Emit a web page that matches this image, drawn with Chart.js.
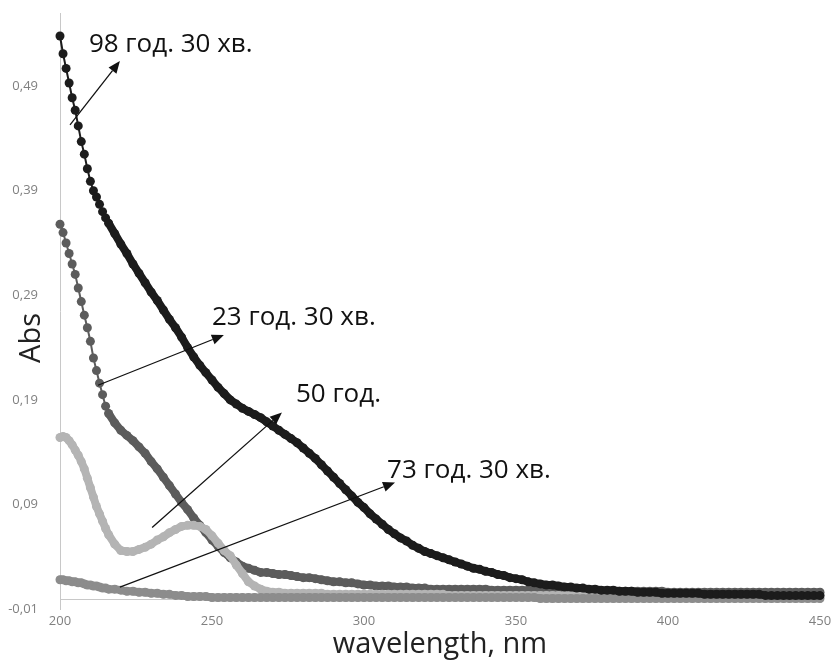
<!DOCTYPE html>
<html>
<head>
<meta charset="utf-8">
<script src="https://cdn.jsdelivr.net/npm/chart.js@4"></script>
<style>
  html, body { margin: 0; padding: 0; background: #fff; }
  #chart { display: block; }
</style>
</head>
<body>
<canvas id="chart" width="840" height="660"></canvas>
<script>
// wavelength, nm (1 nm steps on the steep start, 2 nm after)
var wavelengths = [
  200, 201, 202, 203, 204, 205, 206, 207, 208, 209, 210, 211, 212, 213, 214, 215, 216,
  218, 220, 222, 224, 226, 228, 230, 232, 234, 236,
  238, 240, 242, 244, 246, 248, 250, 252, 254, 256,
  258, 260, 262, 264, 266, 268, 270, 272, 274, 276,
  278, 280, 282, 284, 286, 288, 290, 292, 294, 296,
  298, 300, 302, 304, 306, 308, 310, 312, 314, 316,
  318, 320, 322, 324, 326, 328, 330, 332, 334, 336,
  338, 340, 342, 344, 346, 348, 350, 352, 354, 356,
  358, 360, 362, 364, 366, 368, 370, 372, 374, 376,
  378, 380, 382, 384, 386, 388, 390, 392, 394, 396,
  398, 400, 402, 404, 406, 408, 410, 412, 414, 416,
  418, 420, 422, 424, 426, 428, 430, 432, 434, 436,
  438, 440, 442, 444, 446, 448, 450
];

var abs98 = [
  0.538, 0.521, 0.507, 0.493, 0.479, 0.467, 0.452, 0.437, 0.425, 0.411, 0.399, 0.390, 0.384, 0.377, 0.370, 0.364, 0.359,
  0.349, 0.339, 0.330, 0.320, 0.311, 0.302, 0.293, 0.285, 0.276, 0.267,
  0.259, 0.250, 0.240, 0.231, 0.223, 0.216, 0.209, 0.202, 0.196, 0.190,
  0.186, 0.182, 0.179, 0.176, 0.173, 0.169, 0.165, 0.161, 0.157, 0.153,
  0.149, 0.144, 0.139, 0.134, 0.128, 0.122, 0.116, 0.110, 0.104, 0.098,
  0.092, 0.087, 0.081, 0.076, 0.071, 0.066, 0.062, 0.058, 0.055, 0.051,
  0.048, 0.045, 0.043, 0.041, 0.039, 0.037, 0.035, 0.033, 0.031, 0.029,
  0.028, 0.026, 0.025, 0.023, 0.022, 0.020, 0.019, 0.018, 0.016, 0.015,
  0.014, 0.013, 0.013, 0.012, 0.011, 0.011, 0.010, 0.010, 0.009, 0.009,
  0.008, 0.008, 0.008, 0.007, 0.007, 0.007, 0.006, 0.006, 0.006, 0.006,
  0.005, 0.005, 0.005, 0.005, 0.005, 0.005, 0.005, 0.004, 0.004, 0.004,
  0.004, 0.004, 0.004, 0.004, 0.004, 0.004, 0.004, 0.003, 0.003, 0.003,
  0.003, 0.003, 0.003, 0.003, 0.003, 0.003, 0.003
];

var abs23 = [
  0.358, 0.350, 0.340, 0.330, 0.320, 0.310, 0.297, 0.284, 0.271, 0.259, 0.246, 0.230, 0.218, 0.206, 0.195, 0.184, 0.177,
  0.168, 0.161, 0.156, 0.151, 0.145, 0.139, 0.131, 0.124, 0.116, 0.108,
  0.100, 0.092, 0.085, 0.077, 0.070, 0.063, 0.056, 0.050, 0.044, 0.039,
  0.035, 0.031, 0.029, 0.027, 0.025, 0.025, 0.024, 0.023, 0.023, 0.022,
  0.021, 0.020, 0.020, 0.019, 0.018, 0.017, 0.016, 0.016, 0.015, 0.015,
  0.014, 0.013, 0.013, 0.012, 0.012, 0.012, 0.011, 0.011, 0.011, 0.010,
  0.010, 0.010, 0.009, 0.009, 0.009, 0.009, 0.009, 0.009, 0.009, 0.009,
  0.009, 0.009, 0.008, 0.008, 0.008, 0.008, 0.008, 0.008, 0.008, 0.008,
  0.008, 0.008, 0.008, 0.008, 0.008, 0.008, 0.008, 0.007, 0.007, 0.007,
  0.007, 0.007, 0.007, 0.007, 0.007, 0.007, 0.007, 0.007, 0.007, 0.007,
  0.007, 0.006, 0.006, 0.006, 0.006, 0.006, 0.006, 0.006, 0.006, 0.006,
  0.006, 0.006, 0.006, 0.006, 0.006, 0.006, 0.006, 0.006, 0.006, 0.006,
  0.006, 0.006, 0.006, 0.006, 0.006, 0.006, 0.006
];

var abs50 = [
  0.154, 0.155, 0.154, 0.151, 0.147, 0.142, 0.137, 0.131, 0.124, 0.115, 0.106, 0.097, 0.088, 0.081, 0.074, 0.067, 0.061,
  0.052, 0.046, 0.045, 0.045, 0.047, 0.049, 0.052, 0.056, 0.059, 0.063,
  0.066, 0.069, 0.070, 0.070, 0.069, 0.066, 0.060, 0.053, 0.046, 0.041,
  0.032, 0.024, 0.016, 0.012, 0.009, 0.007, 0.006, 0.006, 0.005, 0.005,
  0.005, 0.005, 0.005, 0.005, 0.005, 0.004, 0.004, 0.004, 0.004, 0.004,
  0.004, 0.004, 0.004, 0.004, 0.004, 0.004, 0.004, 0.004, 0.004, 0.004,
  0.004, 0.004, 0.004, 0.004, 0.004, 0.003, 0.003, 0.003, 0.003, 0.003,
  0.003, 0.003, 0.003, 0.003, 0.003, 0.003, 0.003, 0.003, 0.003, 0.003,
  0.003, 0.003, 0.003, 0.003, 0.003, 0.003, 0.003, 0.003, 0.003, 0.003,
  0.003, 0.003, 0.003, 0.003, 0.003, 0.003, 0.003, 0.003, 0.003, 0.003,
  0.003, 0.003, 0.003, 0.003, 0.003, 0.003, 0.003, 0.003, 0.003, 0.003,
  0.003, 0.003, 0.003, 0.003, 0.003, 0.003, 0.003, 0.003, 0.003, 0.003,
  0.003, 0.003, 0.003, 0.003, 0.003, 0.003, 0.003
];

var abs73 = [
  0.018, 0.018, 0.017, 0.017, 0.016, 0.016, 0.015, 0.015, 0.014, 0.013, 0.013, 0.012, 0.012, 0.011, 0.010, 0.010, 0.009,
  0.009, 0.008, 0.007, 0.007, 0.006, 0.006, 0.005, 0.005, 0.004, 0.004,
  0.003, 0.003, 0.002, 0.002, 0.002, 0.002, 0.001, 0.001, 0.001, 0.001,
  0.001, 0.001, 0.001, 0.001, 0.001, 0.001, 0.001, 0.001, 0.001, 0.001,
  0.001, 0.001, 0.001, 0.001, 0.001, 0.001, 0.001, 0.001, 0.001, 0.001,
  0.001, 0.001, 0.001, 0.001, 0.001, 0.001, 0.001, 0.001, 0.001, 0.001,
  0.001, 0.001, 0.001, 0.001, 0.001, 0.001, 0.001, 0.001, 0.001, 0.001,
  0.001, 0.001, 0.001, 0.001, 0.001, 0.001, 0.001, 0.001, 0.001, 0.001,
  0.000, 0.000, 0.000, 0.000, 0.000, 0.000, 0.000, 0.000, 0.000, 0.000,
  0.000, 0.000, 0.000, 0.000, 0.000, 0.000, 0.000, 0.000, 0.000, 0.000,
  0.000, 0.000, 0.000, 0.000, 0.000, 0.000, 0.000, 0.000, 0.000, 0.000,
  0.000, 0.000, 0.000, 0.000, 0.000, 0.000, 0.000, 0.000, 0.000, 0.000,
  0.000, 0.000, 0.000, 0.000, 0.000, 0.000, 0.000
];

var yTicks = [-0.01, 0.09, 0.19, 0.29, 0.39, 0.49];
var xTicks = [200, 250, 300, 350, 400, 450];

// callouts: label, where the text starts (nm, Abs), arrow tail and head (nm, Abs)
var callouts = [
  { text: "98 год. 30 хв.", at: [209.5, 0.523], from: [203.3, 0.453], to: [219.7, 0.514] },
  { text: "23 год. 30 хв.", at: [250.0, 0.262], from: [212.5, 0.204], to: [253.9, 0.252] },
  { text: "50 год.",        at: [277.6, 0.188], from: [230.3, 0.068], to: [273.0, 0.178] },
  { text: "73 год. 30 хв.", at: [307.6, 0.115], from: [219.7, 0.011], to: [310.2, 0.111] }
];

function points(values) {
  return values.map(function(v, i) { return { x: wavelengths[i], y: v }; });
}

// beadsTo: up to this wavelength the markers sit on a thin line, after it the band is solid
function series(label, values, color, beadsTo) {
  return {
    label: label,
    data: points(values),
    borderColor: color,
    backgroundColor: color,
    borderWidth: 2,
    borderJoinStyle: "round",
    borderCapStyle: "round",
    segment: {
      borderWidth: function(c) { return c.p1.parsed.x <= beadsTo ? 2 : 8; }
    },
    pointRadius: 4.5,
    pointBorderWidth: 0,
    pointBackgroundColor: color,
    tension: 0,
    clip: false
  };
}

// ── zero line + callouts ─────────────────────────────────────────
var decorPlugin = {
  id: "decor",
  beforeDatasetsDraw: function(chart) {
    var ctx = chart.ctx, xs = chart.scales.x, ys = chart.scales.y;
    var y0 = Math.round(ys.getPixelForValue(0)) + 0.5;
    ctx.save();
    ctx.strokeStyle = "#c8c8c8";
    ctx.lineWidth = 1;
    ctx.beginPath();
    ctx.moveTo(xs.left, y0);
    ctx.lineTo(xs.right, y0);
    ctx.stroke();
    ctx.restore();
  },
  afterDatasetsDraw: function(chart) {
    var ctx = chart.ctx, xs = chart.scales.x, ys = chart.scales.y;
    ctx.save();
    callouts.forEach(function(c) {
      var x1 = xs.getPixelForValue(c.from[0]), y1 = ys.getPixelForValue(c.from[1]);
      var x2 = xs.getPixelForValue(c.to[0]), y2 = ys.getPixelForValue(c.to[1]);
      var ang = Math.atan2(y2 - y1, x2 - x1);
      var hl = 12, hw = 5;
      var bx = x2 - hl * Math.cos(ang), by = y2 - hl * Math.sin(ang);
      ctx.strokeStyle = "#111";
      ctx.fillStyle = "#111";
      ctx.lineWidth = 1.3;
      ctx.beginPath();
      ctx.moveTo(x1, y1);
      ctx.lineTo(bx, by);
      ctx.stroke();
      ctx.beginPath();
      ctx.moveTo(x2, y2);
      ctx.lineTo(bx + hw * Math.sin(ang), by - hw * Math.cos(ang));
      ctx.lineTo(bx - hw * Math.sin(ang), by + hw * Math.cos(ang));
      ctx.closePath();
      ctx.fill();

      ctx.font = "26px 'Open Sans'";
      ctx.textAlign = "left";
      ctx.textBaseline = "alphabetic";
      ctx.fillText(c.text, xs.getPixelForValue(c.at[0]), ys.getPixelForValue(c.at[1]));
    });

    // y axis title
    ctx.translate(32, 338);
    ctx.rotate(-Math.PI / 2);
    ctx.font = "29px 'Open Sans'";
    ctx.textAlign = "center";
    ctx.textBaseline = "middle";
    ctx.fillStyle = "#222";
    ctx.fillText("Abs", 0, 0);
    ctx.restore();
  }
};

var ctx = document.getElementById("chart");
new Chart(ctx, {
  type: "line",
  data: {
    datasets: [
      series("98 год. 30 хв.", abs98, "#1c1c1c", 216),
      series("73 год. 30 хв.", abs73, "#8c8c8c", 0),
      series("50 год.", abs50, "#b4b4b4", 0),
      series("23 год. 30 хв.", abs23, "#5c5c5c", 216)
    ]
  },
  options: {
    responsive: false,
    animation: false,
    layout: { padding: { top: 13, right: 20, left: 0, bottom: 0 } },
    plugins: {
      legend: { display: false },
      tooltip: { enabled: false }
    },
    scales: {
      x: {
        type: "linear",
        min: 200,
        max: 450,
        afterFit: function(scale) { scale.height = 51; },
        afterBuildTicks: function(scale) {
          scale.ticks = xTicks.map(function(v) { return { value: v }; });
        },
        grid: { display: false, drawTicks: false },
        border: { display: false },
        ticks: {
          color: "#808080",
          padding: 4,
          maxRotation: 0,
          font: { family: "Open Sans", size: 13 }
        },
        title: {
          display: true,
          text: "wavelength, nm",
          color: "#222",
          padding: { top: 0, bottom: 1 },
          font: { family: "Open Sans", size: 29, lineHeight: 1 }
        }
      },
      y: {
        min: -0.01,
        max: 0.56,
        afterFit: function(scale) { scale.width = 60; },
        afterBuildTicks: function(scale) {
          scale.ticks = yTicks.map(function(v) { return { value: v }; });
        },
        grid: { display: false, drawTicks: true, tickLength: 22 },
        border: { display: true, color: "#c8c8c8", width: 1 },
        ticks: {
          color: "#808080",
          padding: 0,
          font: { family: "Open Sans", size: 13 },
          callback: function(v) { return v.toFixed(2).replace(".", ","); }
        }
      }
    }
  },
  plugins: [decorPlugin]
});
</script>
</body>
</html>
